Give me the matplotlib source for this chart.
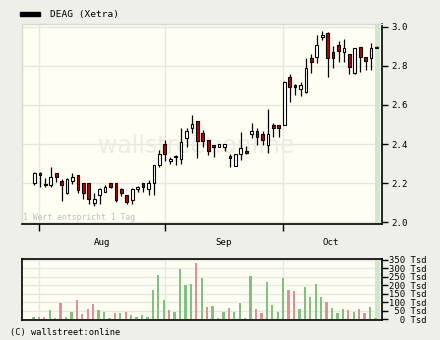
import numpy as np
import matplotlib
matplotlib.use("Agg")
import matplotlib.pyplot as plt

# daily OHLC (EUR)
opens = [2.20, 2.25, 2.195, 2.19, 2.25, 2.21, 2.147, 2.21, 2.24, 2.20,
         2.20, 2.10, 2.14, 2.155, 2.20, 2.20, 2.17, 2.14, 2.113, 2.168,
         2.20, 2.168, 2.20, 2.29, 2.40, 2.315, 2.34, 2.325, 2.43, 2.48,
         2.518, 2.455, 2.42, 2.395, 2.387, 2.387, 2.34, 2.287, 2.347, 2.366,
         2.45, 2.468, 2.45, 2.395, 2.497, 2.497, 2.497, 2.745, 2.70, 2.682,
         2.668, 2.84, 2.848, 2.947, 2.967, 2.87, 2.905, 2.87, 2.86, 2.763,
         2.895, 2.848, 2.839, 2.893]
highs = [2.255, 2.255, 2.225, 2.28, 2.25, 2.22, 2.225, 2.25, 2.24, 2.20,
         2.20, 2.15, 2.175, 2.19, 2.20, 2.20, 2.175, 2.14, 2.175, 2.185,
         2.20, 2.215, 2.29, 2.37, 2.42, 2.335, 2.345, 2.48, 2.48, 2.55,
         2.518, 2.47, 2.42, 2.395, 2.40, 2.40, 2.35, 2.35, 2.46, 2.39,
         2.506, 2.48, 2.468, 2.578, 2.506, 2.497, 2.725, 2.76, 2.71, 2.72,
         2.84, 2.86, 2.96, 2.98, 2.976, 2.90, 2.93, 2.94, 2.86, 2.89,
         2.895, 2.848, 2.916, 2.90]
lows = [2.19, 2.18, 2.18, 2.18, 2.205, 2.11, 2.145, 2.195, 2.15, 2.12,
        2.095, 2.08, 2.095, 2.155, 2.175, 2.105, 2.135, 2.095, 2.095, 2.155,
        2.155, 2.14, 2.14, 2.28, 2.315, 2.30, 2.29, 2.30, 2.385, 2.455,
        2.326, 2.385, 2.345, 2.335, 2.387, 2.365, 2.28, 2.285, 2.318, 2.347,
        2.43, 2.395, 2.395, 2.352, 2.437, 2.437, 2.497, 2.617, 2.65, 2.648,
        2.66, 2.763, 2.814, 2.933, 2.745, 2.788, 2.822, 2.82, 2.757, 2.757,
        2.77, 2.78, 2.78, 2.89]
closes = [2.25, 2.24, 2.19, 2.23, 2.23, 2.19, 2.22, 2.23, 2.165, 2.147,
          2.12, 2.117, 2.17, 2.18, 2.18, 2.113, 2.147, 2.105, 2.168, 2.178,
          2.178, 2.20, 2.29, 2.35, 2.35, 2.325, 2.335, 2.41, 2.465, 2.50,
          2.417, 2.417, 2.365, 2.385, 2.40, 2.40, 2.33, 2.347, 2.378, 2.352,
          2.468, 2.437, 2.42, 2.45, 2.48, 2.48, 2.717, 2.694, 2.69, 2.70,
          2.788, 2.82, 2.908, 2.958, 2.839, 2.839, 2.878, 2.89, 2.797, 2.89,
          2.848, 2.827, 2.89, 2.895]
# volume in thousands of shares
volumes = [14, 14, 14, 54, 8, 95, 14, 43, 113, 31,
           60, 89, 54, 43, 8, 37, 37, 43, 25, 14,
           25, 14, 171, 259, 113, 54, 43, 294, 200, 206,
           329, 241, 72, 78, 8, 43, 66, 43, 95, 8,
           253, 60, 37, 218, 84, 43, 241, 171, 165, 60,
           189, 130, 206, 130, 101, 66, 37, 60, 54, 43,
           60, 37, 72, 8]

# month boundaries and label positions (in trading-day index)
month_starts = [0.8, 24.0, 45.8]
month_mid = [12.4, 34.9, 54.6]
month_names = ["Aug", "Sep", "Oct"]
price_ticks = [2.0, 2.2, 2.4, 2.6, 2.8, 3.0]
vol_ticks = [0, 50, 100, 150, 200, 250, 300, 350]

o = np.array(opens)
h = np.array(highs)
l = np.array(lows)
c = np.array(closes)
v = np.array(volumes)
idx = np.arange(len(c))
prev = np.concatenate([[c[0]], c[:-1]])
vol_up = c >= prev

mono = "DejaVu Sans Mono"
fig_bg = "#efefe9"
ax_bg = "#fefef2"
grid_c = "#e6e6e2"
band_c = "#cde8cd"

fig = plt.figure(figsize=(4.4, 3.4), dpi=100, facecolor=fig_bg)
ax = fig.add_axes([22/440, 1-224/340, 360/440, 200/340], facecolor=ax_bg)
ax2 = fig.add_axes([22/440, 1-320.3/340, 360/440, 61/340], facecolor=ax_bg)

xlim = (-2.3, 64.0)

# price panel
ax.set_xlim(*xlim)
ax.set_ylim(1.99, 3.015)
for y in price_ticks:
    ax.axhline(y, color=grid_c, lw=1, zorder=0)
for x in month_starts:
    ax.axvline(x, color=grid_c, lw=1, zorder=0)
ax.axvspan(62.8, 63.55, color=band_c, lw=0, zorder=0.5)

ax.text(0.485, 0.39, "wallstreet:online", transform=ax.transAxes, ha="center",
        va="center", fontsize=17, color="#ecece4", zorder=0.6)
ax.text(-2.1, 2.0, "1 Wert entspricht 1 Tag", fontsize=5.9, family=mono,
        color="#c0c0c0", va="bottom", ha="left", zorder=1)

up = c >= o
ax.vlines(idx, l, h, color="black", lw=0.9, zorder=2)
body_h = np.maximum(np.abs(c - o), 0.006)
body_b = np.minimum(o, c)
ax.bar(idx[up], body_h[up], bottom=body_b[up], width=0.5, color="white",
       edgecolor="black", linewidth=0.8, zorder=3)
ax.bar(idx[~up], body_h[~up], bottom=body_b[~up], width=0.5, color="#c00000",
       edgecolor="black", linewidth=0.8, zorder=3)

ax.yaxis.tick_right()
ax.set_yticks(price_ticks)
ax.set_yticklabels([f"{t:.1f}" for t in price_ticks], family=mono, fontsize=6.6)
ax.set_xticks(month_starts)
ax.set_xticklabels([])
ax.set_xticks(month_mid, minor=True)
ax.set_xticklabels(month_names, minor=True, family=mono, fontsize=6.6)
ax.tick_params(axis="x", which="major", length=5, width=1, direction="out")
ax.tick_params(axis="x", which="minor", length=0, pad=10)
ax.tick_params(axis="y", length=4, width=1, direction="out", pad=3)
ax.spines["left"].set_color("#d8d8d4")
ax.spines["top"].set_color("#d8d8d4")
ax.spines["left"].set_linewidth(1)
ax.spines["top"].set_linewidth(1)
ax.spines["bottom"].set_linewidth(1.2)
ax.spines["right"].set_linewidth(1.2)

# volume panel
ax2.set_xlim(*xlim)
ax2.set_ylim(-6, 352)
for y in vol_ticks:
    ax2.axhline(y, color=grid_c, lw=1, zorder=0)
for x in month_starts:
    ax2.axvline(x, color=grid_c, lw=1, zorder=0)
ax2.axvspan(62.8, 63.55, color=band_c, lw=0, zorder=0.5)
ax2.bar(idx[vol_up] - 0.2, v[vol_up], width=0.42, color="#80c080", zorder=2)
ax2.bar(idx[~vol_up] - 0.2, v[~vol_up], width=0.42, color="#e09090", zorder=2)
ax2.yaxis.tick_right()
ax2.set_yticks(vol_ticks)
ax2.set_yticklabels([f"{t:3d} Tsd" for t in vol_ticks], family=mono, fontsize=6.4)
ax2.tick_params(axis="y", length=4, width=1, direction="out", pad=1)
ax2.set_xticks([])
for s in ax2.spines.values():
    s.set_linewidth(1.2)

# header and footer
fig.patches.append(plt.Rectangle((20/440, 1-16/340), 20/440, 4.5/340,
                                 transform=fig.transFigure, color="black"))
fig.text(50/440, 1-14/340, "DEAG (Xetra)", family=mono, fontsize=6.8,
         va="center", ha="left")
fig.text(10/440, 1-333/340, "(C) wallstreet:online", family=mono, fontsize=6.2,
         va="center", ha="left")

fig.savefig("out.png", dpi=100, facecolor=fig_bg)
